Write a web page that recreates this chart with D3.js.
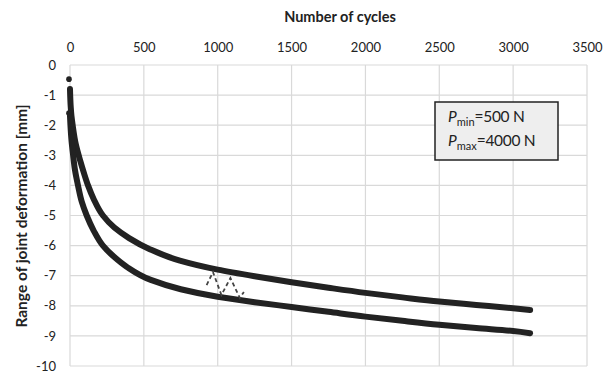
<!DOCTYPE html>
<html>
<head>
<meta charset="utf-8">
<script src="https://cdn.jsdelivr.net/npm/d3@7"></script>
<style>
  body { margin: 0; background: #fff; }
  svg text { font-family: Lato, "Open Sans", sans-serif; fill: #222; }
</style>
</head>
<body>
<div id="chart"></div>
<script>
// DATA
const xTicks = [0, 500, 1000, 1500, 2000, 2500, 3000, 3500];
const yTicks = [0, -1, -2, -3, -4, -5, -6, -7, -8, -9, -10];

// first recorded points (single dots at cycle 0)
const startCycles = [0, 0];
const startValues = [-0.47, -1.6];

// upper curve
const upperCycles = [0, 5, 10, 18, 40, 68, 95, 122, 160, 223, 300, 400, 540, 744, 1000, 1250, 1500, 1750, 2000, 2250, 2500, 2750, 3000, 3115];
const upperValues = [-0.8, -1.4, -1.7, -2.0, -2.65, -3.16, -3.6, -4.0, -4.45, -5.0, -5.4, -5.75, -6.12, -6.5, -6.8, -7.02, -7.22, -7.4, -7.57, -7.72, -7.86, -7.97, -8.08, -8.14];

// lower curve
const lowerCycles = [0, 3, 10, 20, 34, 54, 80, 113, 160, 223, 300, 383, 547, 750, 1000, 1250, 1500, 1750, 2000, 2250, 2500, 2750, 3000, 3115];
const lowerValues = [-1.7, -2.0, -2.5, -2.95, -3.5, -4.0, -4.55, -5.0, -5.5, -6.0, -6.38, -6.7, -7.14, -7.45, -7.7, -7.88, -8.04, -8.2, -8.36, -8.5, -8.63, -8.74, -8.84, -8.91];

// dashed zig-zag between the curves
const zigCycles = [925, 968, 1025, 1086, 1150, 1177];
const zigValues = [-7.31, -6.88, -7.64, -7.08, -7.74, -7.54];

const legendLines = [["min", "=500 N"], ["max", "=4000 N"]];

/* LAYOUT */
const width = 607, height = 371,
  margin = { top: 65, bottom: 5, left: 70, right: 20 };

const svg = d3.select("#chart").append("svg")
  .attr("width", width)
  .attr("height", height);

const xScale = d3.scaleLinear()
  .domain([0, 3500])
  .range([margin.left, width - margin.right]);

const yScale = d3.scaleLinear()
  .domain([0, -10])
  .range([margin.top, height - margin.bottom]);

// gridlines
svg.append("g").selectAll("line.vgrid")
  .data(xTicks)
  .join("line")
  .attr("class", "vgrid")
  .attr("x1", d => xScale(d)).attr("x2", d => xScale(d))
  .attr("y1", yScale(0)).attr("y2", yScale(-10))
  .attr("stroke", "#d9d9d9").attr("stroke-width", 1.2);

svg.append("g").selectAll("line.hgrid")
  .data(yTicks)
  .join("line")
  .attr("class", "hgrid")
  .attr("x1", xScale(0)).attr("x2", xScale(3500))
  .attr("y1", d => yScale(d)).attr("y2", d => yScale(d))
  .attr("stroke", "#d9d9d9").attr("stroke-width", 1.2);

// axes (top x axis, left y axis) - labels only
const xAxis = d3.axisTop(xScale).tickValues(xTicks).tickSize(0).tickPadding(13)
  .tickFormat(d => String(d));
const xAxisGroup = svg.append("g")
  .attr("transform", `translate(0, ${yScale(0)})`)
  .call(xAxis);
xAxisGroup.select(".domain").remove();
xAxisGroup.selectAll("text").attr("font-size", 13).attr("fill", "#222");

const yAxis = d3.axisLeft(yScale).tickValues(yTicks).tickSize(0).tickPadding(14)
  .tickFormat(d => String(d));
const yAxisGroup = svg.append("g")
  .attr("transform", `translate(${xScale(0)}, 0)`)
  .call(yAxis);
yAxisGroup.select(".domain").remove();
yAxisGroup.selectAll("text").attr("font-size", 13).attr("fill", "#222");

// axis titles
svg.append("text")
  .attr("x", 340)
  .attr("y", 22)
  .attr("text-anchor", "middle")
  .attr("font-size", 14.5)
  .attr("font-weight", "bold")
  .text("Number of cycles");

svg.append("text")
  .attr("transform", `translate(27, 216) rotate(-90)`)
  .attr("text-anchor", "middle")
  .attr("font-size", 15.5)
  .attr("font-weight", "bold")
  .text("Range of joint deformation  [mm]");

// curves
const lineGen = d3.line()
  .x(d => xScale(d[0]))
  .y(d => yScale(d[1]))
  .curve(d3.curveMonotoneY);

const series = [
  d3.zip(upperCycles, upperValues),
  d3.zip(lowerCycles, lowerValues)
];

svg.selectAll("path.curve")
  .data(series)
  .join("path")
  .attr("class", "curve")
  .attr("d", d => lineGen(d))
  .attr("fill", "none")
  .attr("stroke", "#222")
  .attr("stroke-width", 6)
  .attr("stroke-linecap", "round")
  .attr("stroke-linejoin", "round");

svg.selectAll("circle.start")
  .data(d3.zip(startCycles, startValues))
  .join("circle")
  .attr("class", "start")
  .attr("cx", d => xScale(d[0]) - 1)
  .attr("cy", d => yScale(d[1]))
  .attr("r", 2.8)
  .attr("fill", "#222");

// dashed zig-zag
svg.append("path")
  .datum(d3.zip(zigCycles, zigValues))
  .attr("d", d3.line().x(d => xScale(d[0])).y(d => yScale(d[1])))
  .attr("fill", "none")
  .attr("stroke", "#444")
  .attr("stroke-width", 1.8)
  .attr("stroke-dasharray", "4,3");

// legend box
const box = svg.append("g").attr("transform", "translate(435, 102)");
box.append("rect")
  .attr("width", 123).attr("height", 58)
  .attr("fill", "#eeeeee")
  .attr("stroke", "#222")
  .attr("stroke-width", 1.5);

box.selectAll("text.leg")
  .data(legendLines)
  .join("text")
  .attr("class", "leg")
  .attr("x", 13)
  .attr("y", (d, i) => 20 + i * 24)
  .attr("font-size", 15.5)
  .each(function(d) {
    const t = d3.select(this);
    t.append("tspan").attr("font-style", "italic").text("P");
    t.append("tspan").attr("font-size", 11).attr("dy", 4).text(d[0]);
    t.append("tspan").attr("dy", -4).attr("letter-spacing", -0.3).text(d[1]);
  });
</script>
</body>
</html>
